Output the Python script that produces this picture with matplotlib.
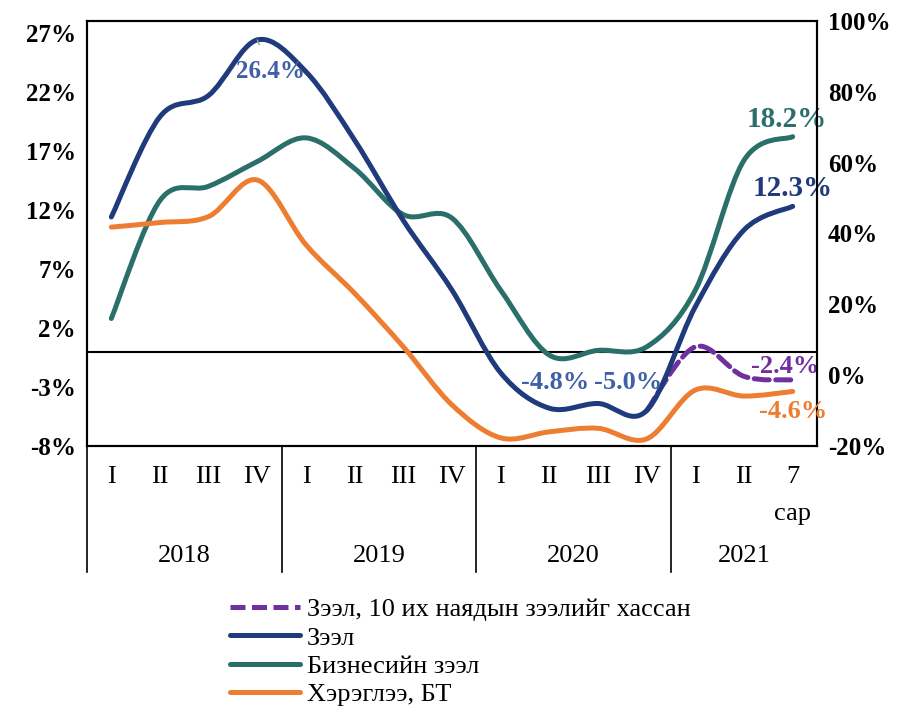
import matplotlib
matplotlib.use("Agg")
import matplotlib.pyplot as plt
from matplotlib.path import Path
from matplotlib.patches import PathPatch
from matplotlib.lines import Line2D
from matplotlib.transforms import blended_transform_factory
import numpy as np

plt.rcParams['font.family'] = ['Liberation Serif', 'DejaVu Serif']

quarters = ["I", "II", "III", "IV"] * 3 + ["I", "II", "7"]
last_note = "сар"
years = ["2018", "2019", "2020", "2021"]
year_len = [4, 4, 4, 3]

loans = [11.4, 19.9, 21.7, 26.4, 23.7, 17.9, 11.1, 5.2, -1.8, -4.8, -4.4, -5.0, 3.8, 10.3, 12.3]
business = [2.8, 12.8, 14.0, 16.1, 18.1, 15.5, 11.6, 11.3, 5.2, -0.3, 0.1, 0.4, 5.2, 16.2, 18.2]
consumer = [41.8, 43.1, 44.8, 55.1, 36.8, 23.1, 8.0, -8.4, -17.7, -16.0, -15.0, -18.0, -4.2, -5.9, -4.6]
loans_ex10 = [-5.0, 0.4, -2.1, -2.4]   # from 2020 IV
ex10_start = 11

navy = "#1f3b7c"
green = "#2a6f6a"
orange = "#ed7d31"
purple = "#7030a0"
lblue = "#3f5fa6"


def smooth_path(xs, ys):
    # excel-like smoothed line: cubic bezier segments through every point
    p = np.column_stack([xs, ys]).astype(float)
    n = len(p)
    verts = [p[0]]
    codes = [Path.MOVETO]
    for i in range(n - 1):
        p0 = p[i - 1] if i > 0 else p[i]
        p3 = p[i + 2] if i + 2 < n else p[i + 1]
        c1 = p[i] + (p[i + 1] - p0) / 6
        c2 = p[i + 1] - (p3 - p[i]) / 6
        verts += [c1, c2, p[i + 1]]
        codes += [Path.CURVE4] * 3
    return Path(verts, codes)


def draw(ax, xs, ys, color, ls="-"):
    patch = PathPatch(smooth_path(xs, ys), fill=False, edgecolor=color, lw=3.6,
                      linestyle=ls, capstyle="round", joinstyle="round", zorder=3)
    ax.add_patch(patch)


fig = plt.figure(figsize=(9.06, 7.08), dpi=100)
ax = fig.add_axes([87 / 906, 1 - 446 / 708, 730 / 906, 425 / 708])
ax2 = ax.twinx()

x = np.arange(len(quarters)) + 0.5
dash = (0, (3, 1.3))

draw(ax2, x, consumer, orange)
draw(ax, x[ex10_start:], loans_ex10, purple, dash)
draw(ax, x, business, green)
draw(ax, x, loans, navy)

ax.set_xlim(0, len(quarters))
ax.set_ylim(-8, 28)
ax2.set_ylim(-20, 100)
ax.set_yticks(np.arange(-8, 28, 5))
ax.set_yticklabels([f"{v}%" for v in range(-8, 28, 5)])
ax2.set_yticks(np.arange(-20, 101, 20))
ax2.set_yticklabels([f"{v}%" for v in range(-20, 101, 20)])
for a in (ax, ax2):
    a.tick_params(length=0, labelsize=18, pad=8)
    for lab in a.get_yticklabels():
        lab.set_fontweight("bold")
    for s in a.spines.values():
        s.set_linewidth(1.5)
ax.set_xticks([])
ax.axhline(0, color="black", lw=1.5, zorder=2)

# category axis below the plot
tr = blended_transform_factory(ax.transData, ax.transAxes)
low = -(572 - 446) / 425
bounds = np.concatenate([[0], np.cumsum(year_len)])
for b in bounds[:-1]:
    ax.plot([b, b], [0, low], color="black", lw=1.2, transform=tr, clip_on=False)
for xi, q in zip(x, quarters):
    ax.text(xi, -(477 - 446) / 425, q, transform=tr, ha="center", va="center", fontsize=19)
ax.text(x[-1], -(514 - 446) / 425, last_note, transform=tr, ha="center", va="center", fontsize=19)
for i, yr in enumerate(years):
    ax.text((bounds[i] + bounds[i + 1]) / 2, -(556 - 446) / 425, yr, transform=tr,
            ha="center", va="center", fontsize=19)

# data labels
ax.annotate("26.4%", (x[3], loans[3]), xytext=(13, -32), textcoords="offset pixels",
            ha="center", va="center", color=lblue, fontsize=18, fontweight="bold",
            arrowprops=dict(arrowstyle="-", color="#a0a0a0", lw=1, shrinkA=10, shrinkB=0))
ax.annotate("18.2%", (x[14], business[14]), xytext=(-6, 17), textcoords="offset pixels",
            ha="center", va="center", color=green, fontsize=21, fontweight="bold")
ax.annotate("12.3%", (x[14], loans[14]), xytext=(0, 18), textcoords="offset pixels",
            ha="center", va="center", color=navy, fontsize=21, fontweight="bold")
ax.annotate("-4.8%", (x[9], loans[9]), xytext=(6, 26), textcoords="offset pixels",
            ha="center", va="center", color=lblue, fontsize=19, fontweight="bold")
ax.annotate("-5.0%", (x[11], loans[11]), xytext=(-19, 28), textcoords="offset pixels",
            ha="center", va="center", color=lblue, fontsize=19, fontweight="bold")
ax.annotate("-2.4%", (x[14], loans_ex10[-1]), xytext=(-7, 13), textcoords="offset pixels",
            ha="center", va="center", color=purple, fontsize=19, fontweight="bold")
ax2.annotate("-4.6%", (x[14], consumer[14]), xytext=(0, -20), textcoords="offset pixels",
             ha="center", va="center", color=orange, fontsize=19, fontweight="bold")

handles = [
    Line2D([], [], color=purple, lw=3.6, linestyle=dash),
    Line2D([], [], color=navy, lw=3.6, solid_capstyle="round"),
    Line2D([], [], color=green, lw=3.6, solid_capstyle="round"),
    Line2D([], [], color=orange, lw=3.6, solid_capstyle="round"),
]
labels = ["Зээл, 10 их наядын зээлийг хассан", "Зээл", "Бизнесийн зээл", "Хэрэглээ, БТ"]
fig.legend(handles, labels, loc="upper left", bbox_to_anchor=(230 / 906, 1 - 598 / 708),
           frameon=False, fontsize=19, handlelength=2.65, handletextpad=0.27,
           labelspacing=0.18, borderpad=0, borderaxespad=0)

fig.savefig("out.png", dpi=100)
